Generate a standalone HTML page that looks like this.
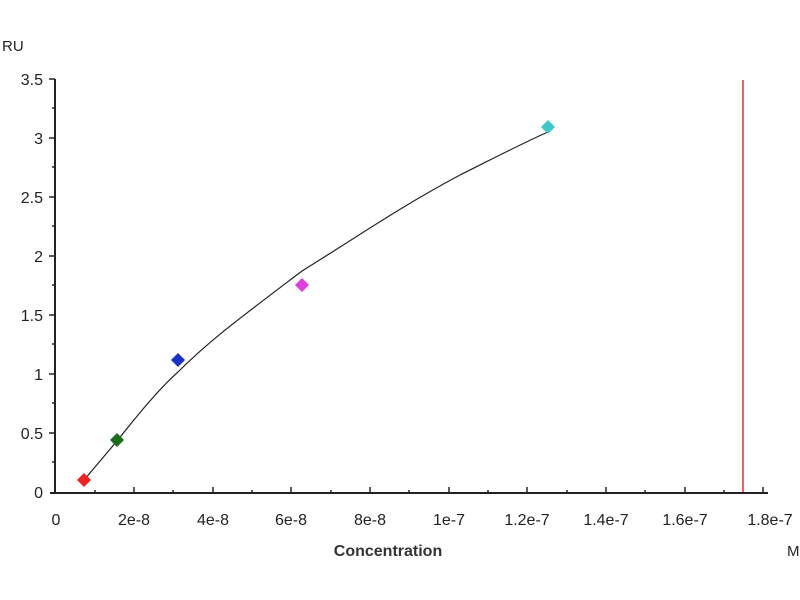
<!DOCTYPE html>
<html><head><style>body{margin:0;background:#fff}svg{display:block}</style></head><body>
<svg width="800" height="600" xmlns="http://www.w3.org/2000/svg" font-family="Liberation Sans, sans-serif">
<rect width="800" height="600" fill="#fff"/>
<text x="2" y="51" font-size="15" fill="#222">RU</text>
<g stroke="#222" stroke-width="2">
<line x1="55" y1="79" x2="55" y2="494"/>
<line x1="50" y1="493" x2="768" y2="493"/>
</g>
<g stroke="#222" stroke-width="1.5">
<line x1="49" y1="79" x2="55" y2="79"/><line x1="49" y1="138" x2="55" y2="138"/><line x1="49" y1="197" x2="55" y2="197"/><line x1="49" y1="256" x2="55" y2="256"/><line x1="49" y1="315" x2="55" y2="315"/><line x1="49" y1="374" x2="55" y2="374"/><line x1="49" y1="433" x2="55" y2="433"/>
<line x1="55" y1="108" x2="52" y2="108"/><line x1="55" y1="167" x2="52" y2="167"/><line x1="55" y1="226" x2="52" y2="226"/><line x1="55" y1="285" x2="52" y2="285"/><line x1="55" y1="344" x2="52" y2="344"/><line x1="55" y1="403" x2="52" y2="403"/><line x1="55" y1="462" x2="52" y2="462"/>
<line x1="134" y1="487" x2="134" y2="493"/><line x1="213" y1="487" x2="213" y2="493"/><line x1="291" y1="487" x2="291" y2="493"/><line x1="370" y1="487" x2="370" y2="493"/><line x1="449" y1="487" x2="449" y2="493"/><line x1="527" y1="487" x2="527" y2="493"/><line x1="606" y1="487" x2="606" y2="493"/><line x1="685" y1="487" x2="685" y2="493"/><line x1="763" y1="487" x2="763" y2="493"/>
<line x1="95" y1="490" x2="95" y2="493"/><line x1="173" y1="490" x2="173" y2="493"/><line x1="252" y1="490" x2="252" y2="493"/><line x1="331" y1="490" x2="331" y2="493"/><line x1="409" y1="490" x2="409" y2="493"/><line x1="488" y1="490" x2="488" y2="493"/><line x1="567" y1="490" x2="567" y2="493"/><line x1="645" y1="490" x2="645" y2="493"/><line x1="724" y1="490" x2="724" y2="493"/>
</g>
<g font-size="16" fill="#222" text-anchor="end">
<text x="43" y="85">3.5</text><text x="43" y="144">3</text><text x="43" y="203">2.5</text><text x="43" y="262">2</text><text x="43" y="321">1.5</text><text x="43" y="380">1</text><text x="43" y="439">0.5</text><text x="43" y="498">0</text>
</g>
<g font-size="16" fill="#222" text-anchor="middle">
<text x="56" y="525">0</text><text x="134" y="525">2e-8</text><text x="213" y="525">4e-8</text><text x="291" y="525">6e-8</text><text x="370" y="525">8e-8</text><text x="449" y="525">1e-7</text><text x="527" y="525">1.2e-7</text><text x="606" y="525">1.4e-7</text><text x="685" y="525">1.6e-7</text><text x="770" y="525">1.8e-7</text>
</g>
<text x="388" y="556" font-size="16" font-weight="bold" text-anchor="middle" fill="#333">Concentration</text>
<text x="787" y="556" font-size="15" fill="#222">M</text>
<line x1="743" y1="80" x2="743" y2="492" stroke="#d33" stroke-width="1.5"/>
<path d="M84,480 L117,441 C140,412 160,388 178,372 C210,340 240,318 302,271 C360,235 400,207 460,175 C500,155 525,142 548,132" fill="none" stroke="#222" stroke-width="1.2"/>
<g>
<path d="M84,473 l7,7 l-7,7 l-7,-7z" fill="#e22"/>
<path d="M117,433 l7,7 l-7,7 l-7,-7z" fill="#1a6e1a"/>
<path d="M178,353 l7,7 l-7,7 l-7,-7z" fill="#1a2ecc"/>
<path d="M302,278 l7,7 l-7,7 l-7,-7z" fill="#e03ee0"/>
<path d="M548,120 l7,7 l-7,7 l-7,-7z" fill="#3cc8c8"/>
</g>
</svg>
</body></html>
